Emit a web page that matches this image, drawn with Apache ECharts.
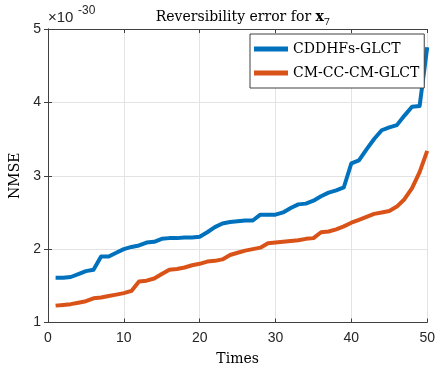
<!DOCTYPE html>
<html>
<head>
<meta charset="utf-8">
<script src="https://cdn.jsdelivr.net/npm/echarts@6/dist/echarts.min.js"></script>
<style>html,body{margin:0;padding:0;background:#fff;}#c{width:438px;height:372px;}</style>
</head>
<body>
<div id="c"></div>
<script>
const times = [1,2,3,4,5,6,7,8,9,10,11,12,13,14,15,16,17,18,19,20,21,22,23,24,25,26,27,28,29,30,31,32,33,34,35,36,37,38,39,40,41,42,43,44,45,46,47,48,49,50];
const cddhfs = [1.61,1.61,1.62,1.66,1.70,1.72,1.90,1.90,1.95,2.00,2.03,2.05,2.09,2.10,2.14,2.15,2.15,2.16,2.16,2.17,2.23,2.30,2.35,2.37,2.38,2.39,2.39,2.47,2.47,2.47,2.50,2.56,2.61,2.62,2.66,2.72,2.77,2.80,2.84,3.17,3.21,3.36,3.50,3.62,3.66,3.69,3.82,3.94,3.95,4.75];
const cmcccm = [1.23,1.24,1.25,1.27,1.29,1.33,1.34,1.36,1.38,1.40,1.43,1.56,1.57,1.60,1.66,1.72,1.73,1.75,1.78,1.80,1.83,1.84,1.86,1.92,1.95,1.98,2.00,2.02,2.08,2.09,2.10,2.11,2.12,2.14,2.15,2.23,2.24,2.27,2.31,2.36,2.40,2.44,2.48,2.50,2.52,2.58,2.68,2.83,3.05,3.34];
const seriesNames = ['CDDHFs-GLCT', 'CM-CC-CM-GLCT'];
const xTicks = [0, 50, 10];
const yTicks = [1, 5, 1];

const axisColor = '#404040';
const serif = 'DejaVu Serif';
const sans = 'Liberation Sans';

function pairs(ys){ return times.map((t,i)=>[t, ys[i]]); }

const chart = echarts.init(document.getElementById('c'), null, {renderer:'canvas'});
chart.setOption({
  animation: false,
  backgroundColor: '#fff',
  title: {
    text: 'Reversibility error for {b|x}{sub|7}',
    left: 238, top: 3, textAlign: 'center',
    textStyle: {
      fontFamily: serif, fontSize: 14, fontWeight: 'normal', color: '#000',
      rich: {
        b: {fontFamily: serif, fontSize: 14, fontWeight: 'bold', color: '#000'},
        sub: {fontFamily: serif, fontSize: 10, color: '#000', padding: [9,0,0,0]}
      }
    }
  },
  grid: {left: 48, right: 9.5, top: 29, bottom: 49.5, containLabel: false},
  legend: {
    orient: 'vertical', left: 250, top: 34,
    data: seriesNames,
    icon: 'rect', itemWidth: 34, itemHeight: 5, itemGap: 8,
    padding: [7, 5, 7, 4],
    borderColor: axisColor, borderWidth: 1, backgroundColor: '#fff',
    textStyle: {fontFamily: serif, fontSize: 14, color: '#000', lineHeight: 16}
  },
  xAxis: [{
    type: 'value', min: xTicks[0], max: xTicks[1], interval: xTicks[2],
    name: 'Times', nameLocation: 'middle', nameGap: 30,
    nameTextStyle: {fontFamily: serif, fontSize: 14, color: '#000'},
    axisLine: {show: true, lineStyle: {color: axisColor, width: 1}},
    axisTick: {show: true, inside: true, length: 4, lineStyle: {color: axisColor}},
    axisLabel: {fontFamily: sans, fontSize: 14, color: '#262626', margin: 9},
    splitLine: {show: true, lineStyle: {color: '#e3e3e3', width: 1}}
  }, {
    type: 'value', position: 'top', min: xTicks[0], max: xTicks[1], interval: xTicks[2],
    axisLine: {show: true, lineStyle: {color: axisColor, width: 1}},
    axisTick: {show: true, inside: true, length: 4, lineStyle: {color: axisColor}},
    axisLabel: {show: false}, splitLine: {show: false}
  }],
  yAxis: [{
    type: 'value', min: yTicks[0], max: yTicks[1], interval: yTicks[2],
    name: 'NMSE', nameLocation: 'middle', nameGap: 22,
    nameTextStyle: {fontFamily: serif, fontSize: 14, color: '#000'},
    axisLine: {show: true, lineStyle: {color: axisColor, width: 1}},
    axisTick: {show: true, inside: true, length: 4, lineStyle: {color: axisColor}},
    axisLabel: {fontFamily: sans, fontSize: 14, color: '#262626', margin: 7},
    splitLine: {show: true, lineStyle: {color: '#e3e3e3', width: 1}}
  }, {
    type: 'value', position: 'right', min: yTicks[0], max: yTicks[1], interval: yTicks[2],
    axisLine: {show: true, lineStyle: {color: axisColor, width: 1}},
    axisTick: {show: true, inside: true, length: 4, lineStyle: {color: axisColor}},
    axisLabel: {show: false}, splitLine: {show: false}
  }],
  graphic: [
    {type: 'text', left: 48, top: 10, style: {text: '\u00d710', font: '15px "Liberation Sans"', fill: '#262626'}},
    {type: 'text', left: 78, top: 5, style: {text: '-30', font: '12px "Liberation Sans"', fill: '#262626'}}
  ],
  series: [{
    name: seriesNames[0], type: 'line', data: pairs(cddhfs), showSymbol: false,
    color: '#0072BD', lineStyle: {width: 4, color: '#0072BD', join: 'round'}, z: 3
  }, {
    name: seriesNames[1], type: 'line', data: pairs(cmcccm), showSymbol: false,
    color: '#D95319', lineStyle: {width: 4, color: '#D95319', join: 'round'}, z: 3
  }]
});
</script>
</body>
</html>
